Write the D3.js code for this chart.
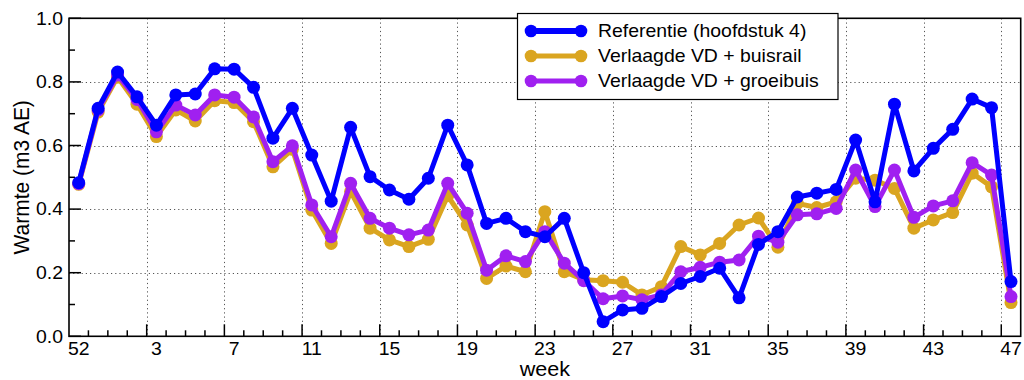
<!DOCTYPE html>
<html>
<head>
<meta charset="utf-8">
<script src="https://cdn.jsdelivr.net/npm/d3@7"></script>
<style>
  html, body { margin: 0; padding: 0; background: #fff; }
  svg { display: block; font-family: "Liberation Sans", Arial, Helvetica, sans-serif; }
</style>
</head>
<body>
<svg id="chart" width="1024" height="380"></svg>
<script>
// Week numbers along the x axis (year turnover: 52, 53, 1 ... 47)
const weeks = [52, 53, 1, 2, 3, 4, 5, 6, 7, 8, 9, 10, 11, 12, 13, 14, 15, 16, 17, 18, 19, 20,
  21, 22, 23, 24, 25, 26, 27, 28, 29, 30, 31, 32, 33, 34, 35, 36, 37, 38, 39, 40,
  41, 42, 43, 44, 45, 46, 47];

// Weekly heat demand (m3 AE) per scenario
const referentie = [0.483, 0.717, 0.831, 0.753, 0.664, 0.759, 0.762, 0.841, 0.840, 0.783,
  0.623, 0.717, 0.570, 0.425, 0.657, 0.502, 0.460, 0.431, 0.497, 0.664,
  0.539, 0.355, 0.371, 0.329, 0.313, 0.371, 0.200, 0.046, 0.083, 0.088,
  0.125, 0.166, 0.188, 0.214, 0.121, 0.289, 0.329, 0.438, 0.450, 0.462,
  0.617, 0.423, 0.730, 0.520, 0.591, 0.651, 0.746, 0.719, 0.172];

const buisrail = [0.478, 0.705, 0.815, 0.730, 0.628, 0.712, 0.677, 0.741, 0.735, 0.675,
  0.533, 0.588, 0.397, 0.292, 0.455, 0.340, 0.303, 0.282, 0.305, 0.442,
  0.350, 0.182, 0.221, 0.203, 0.392, 0.203, 0.178, 0.175, 0.170, 0.130,
  0.156, 0.282, 0.256, 0.292, 0.350, 0.372, 0.280, 0.418, 0.405, 0.423,
  0.497, 0.491, 0.465, 0.340, 0.366, 0.389, 0.513, 0.470, 0.106];

const groeibuis = [0.480, 0.712, 0.822, 0.745, 0.643, 0.727, 0.696, 0.759, 0.752, 0.690,
  0.549, 0.599, 0.413, 0.313, 0.481, 0.371, 0.340, 0.319, 0.334, 0.481,
  0.387, 0.208, 0.253, 0.235, 0.329, 0.230, 0.175, 0.118, 0.127, 0.115,
  0.130, 0.203, 0.217, 0.233, 0.240, 0.315, 0.296, 0.382, 0.385, 0.402,
  0.523, 0.408, 0.523, 0.374, 0.410, 0.426, 0.546, 0.507, 0.125];

const yTicks = [0.0, 0.2, 0.4, 0.6, 0.8, 1.0];
const yMinorTicks = [0.1, 0.3, 0.5, 0.7, 0.9];

const seriesNames = ["Referentie (hoofdstuk 4)", "Verlaagde VD + buisrail", "Verlaagde VD + groeibuis"];
const seriesColors = ["#0000ff", "#daa520", "#a020f0"];
const seriesValues = [referentie, buisrail, groeibuis];

const svg = d3.select("#chart");
const plotLeft = 69, plotRight = 1020.7, plotTop = 18.3, plotBottom = 336.3;
const textStretch = 1.08;

const x = d3.scaleBand().domain(d3.range(weeks.length)).range([plotLeft, plotRight]).padding(0);
const cx = i => x(i) + x.bandwidth() / 2;
const y = d3.scaleLinear().domain([0, 1]).range([plotBottom, plotTop]);

// dotted grid
const grid = svg.append("g").attr("stroke", "#555").attr("stroke-width", 1)
  .attr("stroke-dasharray", "1.2,3");
const majorIdx = d3.range(4, weeks.length, 4);
grid.selectAll("line.gx").data(majorIdx).join("line")
  .attr("x1", i => Math.round(x(i)) + 0.5).attr("x2", i => Math.round(x(i)) + 0.5)
  .attr("y1", plotTop).attr("y2", plotBottom);
grid.selectAll("line.gy").data(yTicks.filter(v => v > 0 && v < 1)).join("line")
  .attr("x1", plotLeft).attr("x2", plotRight)
  .attr("y1", v => Math.round(y(v)) + 0.5).attr("y2", v => Math.round(y(v)) + 0.5);

// inward tick marks
const ticks = svg.append("g").attr("stroke", "#000").attr("stroke-width", 1.5);
ticks.selectAll("line.tx").data(d3.range(1, weeks.length)).join("line")
  .attr("x1", i => x(i)).attr("x2", i => x(i))
  .attr("y1", plotBottom).attr("y2", i => plotBottom - (i % 4 === 0 ? 12 : 6));
ticks.selectAll("line.ty").data(yTicks.concat(yMinorTicks)).join("line")
  .attr("x1", plotLeft).attr("x2", v => plotLeft + (yMinorTicks.includes(v) ? 6 : 12))
  .attr("y1", v => y(v)).attr("y2", v => y(v));

// frame
svg.append("rect").attr("x", plotLeft).attr("y", plotTop)
  .attr("width", plotRight - plotLeft).attr("height", plotBottom - plotTop)
  .attr("fill", "none").attr("stroke", "#000").attr("stroke-width", 1.6);

// tick labels
function stretchedText(g, tx, ty, txt, anchor, size) {
  return g.append("text")
    .attr("transform", `translate(${tx},${ty}) scale(${textStretch},1)`)
    .attr("text-anchor", anchor).attr("font-size", size).attr("fill", "#000").text(txt);
}
const labels = svg.append("g");
d3.range(0, weeks.length, 4).forEach(i => stretchedText(labels, cx(i), 355, String(weeks[i]), "middle", 18));
yTicks.forEach(v => stretchedText(labels, 63, y(v) + 6.3, d3.format(".1f")(v), "end", 18));

// axis titles
stretchedText(svg, (plotLeft + plotRight) / 2, 376, "week", "middle", 20);
svg.append("text")
  .attr("transform", `translate(29,${(plotTop + plotBottom) / 2}) rotate(-90) scale(1,${textStretch})`)
  .attr("text-anchor", "middle").attr("font-size", 21).attr("fill", "#000")
  .text("Warmte (m3 AE)");

// series: drawn so that the reference line ends up on top
const line = d3.line().x((d, i) => cx(i)).y(d => y(d));
[1, 2, 0].forEach(k => {
  const g = svg.append("g");
  g.append("path").datum(seriesValues[k]).attr("d", line)
    .attr("fill", "none").attr("stroke", seriesColors[k]).attr("stroke-width", 5)
    .attr("stroke-linejoin", "round");
  g.selectAll("circle").data(seriesValues[k]).join("circle")
    .attr("cx", (d, i) => cx(i)).attr("cy", d => y(d)).attr("r", 6.5)
    .attr("fill", seriesColors[k]);
});

// legend
const lg = svg.append("g");
lg.append("rect").attr("x", 517.5).attr("y", 13.5).attr("width", 320.5).attr("height", 86)
  .attr("fill", "#fff").attr("stroke", "#000").attr("stroke-width", 1.2);
seriesNames.forEach((name, k) => {
  const ly = 31 + k * 25;
  lg.append("line").attr("x1", 531).attr("x2", 581).attr("y1", ly).attr("y2", ly)
    .attr("stroke", seriesColors[k]).attr("stroke-width", k === 0 ? 6 : 5);
  [531, 581].forEach(mx => lg.append("circle").attr("cx", mx).attr("cy", ly).attr("r", 6.3)
    .attr("fill", seriesColors[k]));
  stretchedText(lg, 598, ly + 6.3, name, "start", 18);
});
</script>
</body>
</html>
